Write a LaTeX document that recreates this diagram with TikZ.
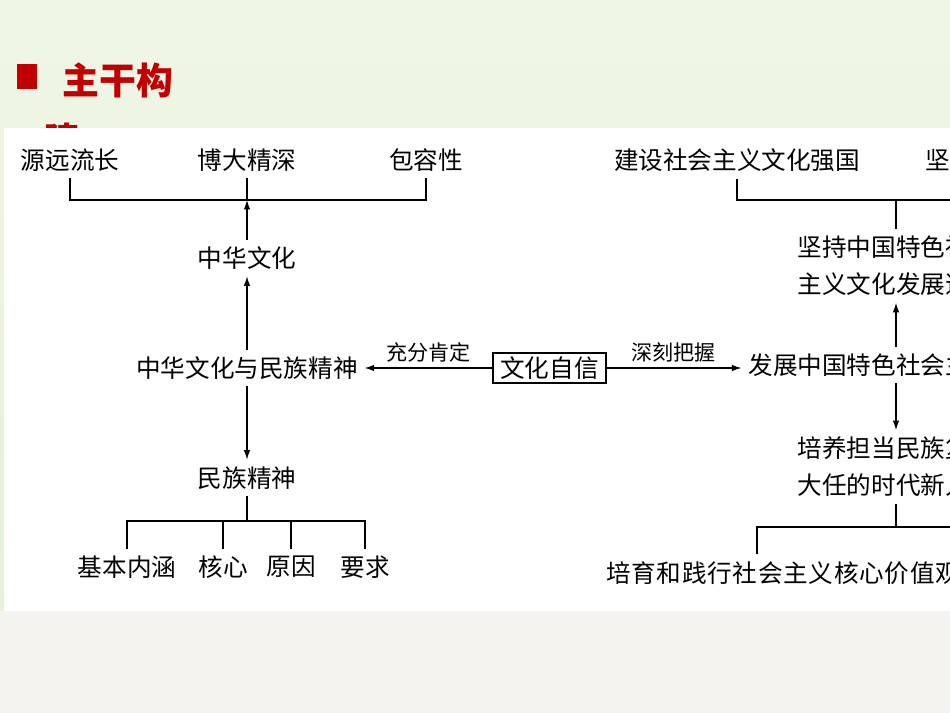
\documentclass[tikz,border=0pt]{standalone}
\usepackage{fontspec}
\newfontfamily\cjk{Noto Sans CJK SC}
\usepackage{tikz}
\usetikzlibrary{arrows.meta,positioning}
\definecolor{slidegreen}{RGB}{240,246,230}
\definecolor{slidegreenb}{RGB}{230,241,216}
\definecolor{slidegray}{RGB}{244,243,240}
\definecolor{titlered}{RGB}{192,0,0}
\tikzstyle{line} = [draw, -{Latex[length=1.9mm, width=1.3mm]}]
\tikzstyle{concept} = [inner sep=0pt, outer sep=4pt, font=\cjk\fontsize{14}{21}\selectfont]
\tikzstyle{twoline} = [concept, align=left]
\tikzstyle{verb} = [inner sep=0pt, outer sep=0pt, font=\cjk\fontsize{12}{14}\selectfont]
\tikzstyle{core} = [draw, concept, outer sep=0pt, minimum width=2.26cm, minimum height=0.6cm]
\tikzstyle{heading} = [inner sep=0pt, text=titlered, font=\cjk\bfseries\fontsize{21}{26}\selectfont]
\begin{document}
\begin{tikzpicture}[x=0.02cm, y=-0.02cm, line width=0.6pt]
	\useasboundingbox (0,0) rectangle (950,713);
	\clip (0,0) rectangle (950,713);
	
	\shade [top color=slidegreen, bottom color=slidegreenb] (0,0) rectangle (950,611);
	\fill [slidegray] (0,611) rectangle (950,713);
	\fill [titlered] (17,64) rectangle (37,89);
	\node [heading, anchor=west] (title) at (62,80) {主干构};
	\node [heading] (titlecont) at (63,140) {建};
	\fill [white] (4,128) rectangle (950,611);
	
	% left: culture and spirit
	\node [concept] (yuanyuan) at (70,160) {源远流长};
	\node [concept] (boda) at (247,160) {博大精深};
	\node [concept] (baorong) at (426,160) {包容性};
	\coordinate (culbar) at (247,200);
	\draw (yuanyuan.south) |- (culbar) -| (baorong.south);
	\draw (boda.south) -- (culbar);
	
	\node [concept] (zhonghua) at (247,258) {中华文化};
	\path [line] (zhonghua.north) to (culbar);
	
	\node [concept] (zhmz) at (247,368) {中华文化与民族精神};
	\path [line] (zhmz.north) to (zhonghua.south);
	
	\node [concept] (minzu) at (247,478) {民族精神};
	\path [line] (zhmz.south) to (minzu.north);
	
	\node [concept] (neihan) at (127,567) {基本内涵};
	\node [concept] (hexin) at (223,567) {核心};
	\node [concept] (yuanyin) at (291,567) {原因};
	\node [concept] (yaoqiu) at (365,567) {要求};
	\coordinate (spbar) at (247,521);
	\draw (minzu.south) -- (spbar);
	\draw (neihan.north) |- (spbar) -| (yaoqiu.north);
	\draw (hexin.north) -- (hexin.north |- spbar);
	\draw (yuanyin.north) -- (yuanyin.north |- spbar);
	
	% right: socialist culture
	\node [concept] (jianshe) at (737,160) {建设社会主义文化强国};
	\node [concept, anchor=west] (jianding) at (918,160) {坚定文化自信};
	\coordinate (powerbar) at (896,200);
	\draw (jianshe.south) |- (powerbar) -| (jianding.south);
	
	\node [twoline] (daolu) at (896,266) {坚持中国特色社会\\主义文化发展道路};
	\draw (powerbar) -- (daolu.north);
	
	\node [concept] (fazhan) at (896,365) {发展中国特色社会主义文化};
	\path [line] (fazhan.north) to (daolu.south);
	
	\node [twoline] (xinren) at (896,467) {培养担当民族复兴\\大任的时代新人};
	\path [line] (fazhan.south) to (xinren.north);
	
	\node [concept, anchor=west, font=\cjk\fontsize{14}{21}\selectfont\addfontfeature{LetterSpace=3}] (jiazhi) at (599,573) {培育和践行社会主义核心价值观};
	\coordinate (valbar) at (896,527);
	\coordinate (valleft) at (757,527);
	\coordinate (valend) at (960,527);
	\draw (xinren.south) -- (valbar);
	\draw (valleft |- jiazhi.north) -- (valleft) -- (valend);
	
	% centre
	\node [core] (zixin) at (549.5,368) {文化自信};
	\path [line] (zixin.west) to node [verb, above=3.5pt] (kending) {充分肯定} (zhmz.east);
	\path [line] (zixin.east) to node [verb, above=3.5pt] (bawo) {深刻把握} (zixin.east -| fazhan.west);
\end{tikzpicture}
\end{document}
